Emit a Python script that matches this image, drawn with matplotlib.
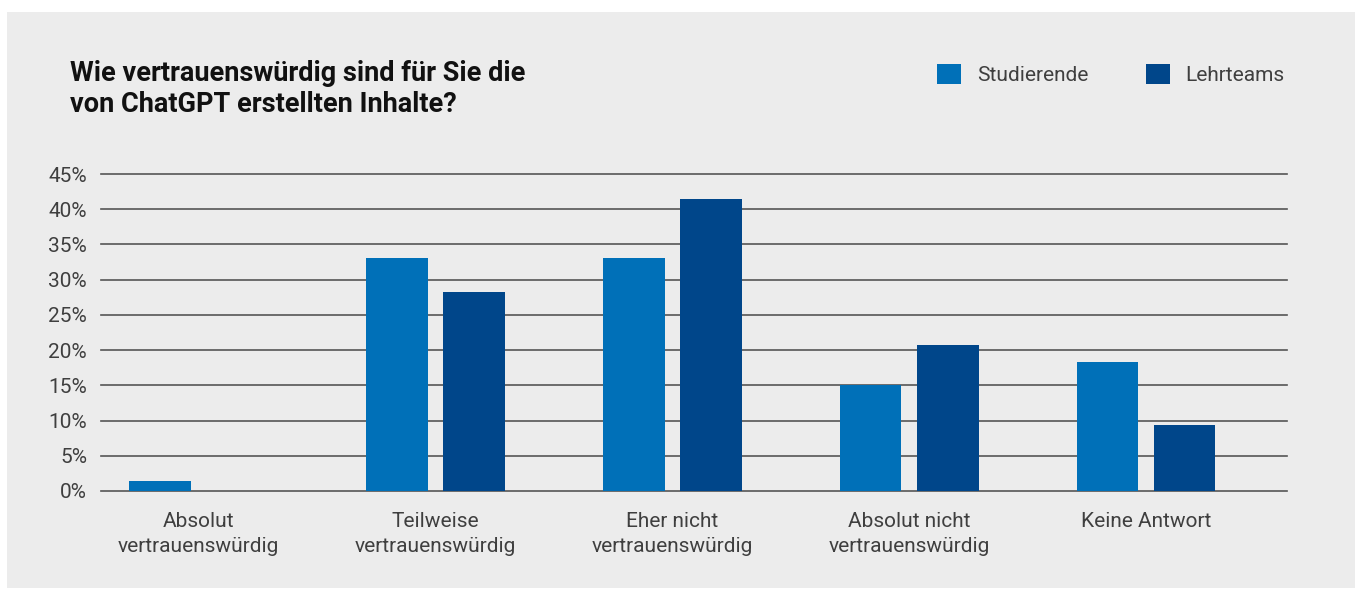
import matplotlib.pyplot as plt
from matplotlib.patches import Rectangle, Patch
import numpy as np

# Daten
categories = ["Absolut\nvertrauenswürdig", "Teilweise\nvertrauenswürdig",
              "Eher nicht\nvertrauenswürdig", "Absolut nicht\nvertrauenswürdig",
              "Keine Antwort"]
studierende = [1.4, 33.1, 33.1, 15.0, 18.3]
lehrteams = [0.0, 28.3, 41.5, 20.7, 9.4]
series_names = ["Studierende", "Lehrteams"]
colors = ["#0070b8", "#00468a"]
yticks = [0, 5, 10, 15, 20, 25, 30, 35, 40, 45]

plt.rcParams['font.family'] = ['Roboto', 'DejaVu Sans']

W, H = 1357, 589
fig = plt.figure(figsize=(W / 100, H / 100), dpi=100, facecolor="white")

# grauer Hintergrund-Kasten
fig.patches.append(Rectangle((7 / W, 1 / H), 1348 / W, 576 / H,
                             transform=fig.transFigure, facecolor="#ececec",
                             edgecolor="none", zorder=-1))

ax = fig.add_axes([101 / W, 98 / H, 1186 / W, 317 / H])
ax.set_facecolor("none")

x = np.arange(len(categories))
bw = 0.26
off = 0.163
ax.bar(x - off, studierende, bw, color=colors[0], zorder=3)
ax.bar(x + off, lehrteams, bw, color=colors[1], zorder=3)

ax.set_xlim(-0.413, 4.595)
ax.set_ylim(0, 45)
ax.set_yticks(yticks)
ax.set_yticklabels([f"{v}%" for v in yticks])
for v in yticks:
    ax.axhline(v, color="#555555", lw=1.2, zorder=1, clip_on=False)

ax.set_xticks(x)
ax.set_xticklabels(categories, fontsize=15, color="#3f3f3f", linespacing=1.4)
ax.tick_params(axis="x", length=0, pad=15)
ax.tick_params(axis="y", length=0, pad=10, labelsize=15, labelcolor="#3f3f3f")
for s in ax.spines.values():
    s.set_visible(False)

fig.text(70 / W, 1 - 60 / H,
         "Wie vertrauenswürdig sind für Sie die\nvon ChatGPT erstellten Inhalte?",
         fontsize=19.5, fontweight="bold", color="#111111", va="top", ha="left",
         linespacing=1.2)

handles = [Patch(facecolor=c, edgecolor="none") for c in colors]
fig.legend(handles, series_names, loc="upper right",
           bbox_to_anchor=(1303 / W, 1 - 45 / H), ncol=2, frameon=False,
           fontsize=15, handlelength=1.15, handleheight=1.15,
           handletextpad=0.75, columnspacing=2.75, labelcolor="#3f3f3f")

fig.savefig("out.png", dpi=100, facecolor="white")
